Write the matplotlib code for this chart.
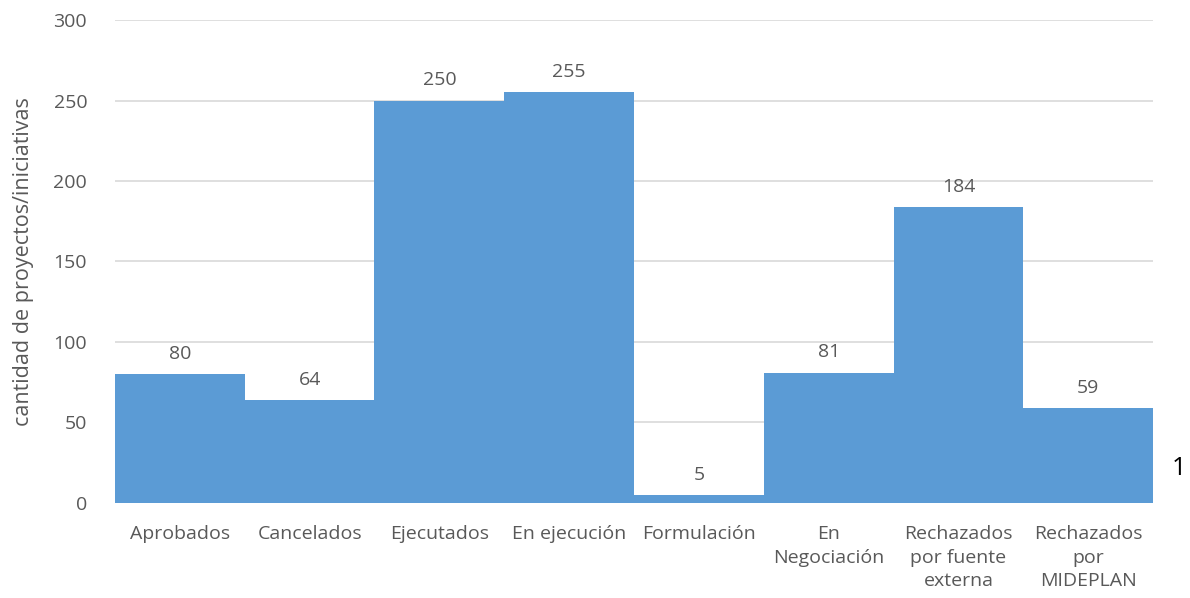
import numpy as np
import matplotlib.pyplot as plt

plt.rcParams['font.family'] = ['Open Sans', 'DejaVu Sans']

categorias = ['Aprobados', 'Cancelados', 'Ejecutados', 'En ejecución', 'Formulación',
              'En\nNegociación', 'Rechazados\npor fuente\nexterna', 'Rechazados\npor\nMIDEPLAN']
cantidades = [80, 64, 250, 255, 5, 81, 184, 59]

gris = '#595959'

fig = plt.figure(figsize=(11.9, 5.98), dpi=100)
ax = fig.add_axes([0.0966, 0.159, 0.8724, 0.8075])

x = np.arange(len(categorias))
ax.bar(x, cantidades, width=1.0, color='#5B9BD5', zorder=2)

for xi, v in zip(x, cantidades):
    ax.annotate(str(v), (xi, v), xytext=(0, 8), textcoords='offset points',
                ha='center', va='bottom', fontsize=14, color=gris)

ax.set_xlim(-0.5, len(categorias) - 0.5)
ax.set_ylim(0, 300)
ax.set_yticks(np.arange(0, 301, 50))
ax.set_xticks(x)
ax.set_xticklabels(categorias, fontsize=14, color=gris, linespacing=1.4, va='top')
ax.tick_params(axis='y', labelsize=14, colors=gris, length=0, pad=20)
ax.tick_params(axis='x', length=0, pad=16)
ax.grid(axis='y', color='#D9D9D9', linewidth=1.2, zorder=0)
for s in ax.spines.values():
    s.set_visible(False)

ax.set_ylabel('cantidad de proyectos/iniciativas', fontsize=15.5, color=gris, labelpad=14)

fig.text(0.991, 0.217, '1', fontsize=18, color='black', ha='center', va='center')

fig.savefig('out.png', dpi=100)
